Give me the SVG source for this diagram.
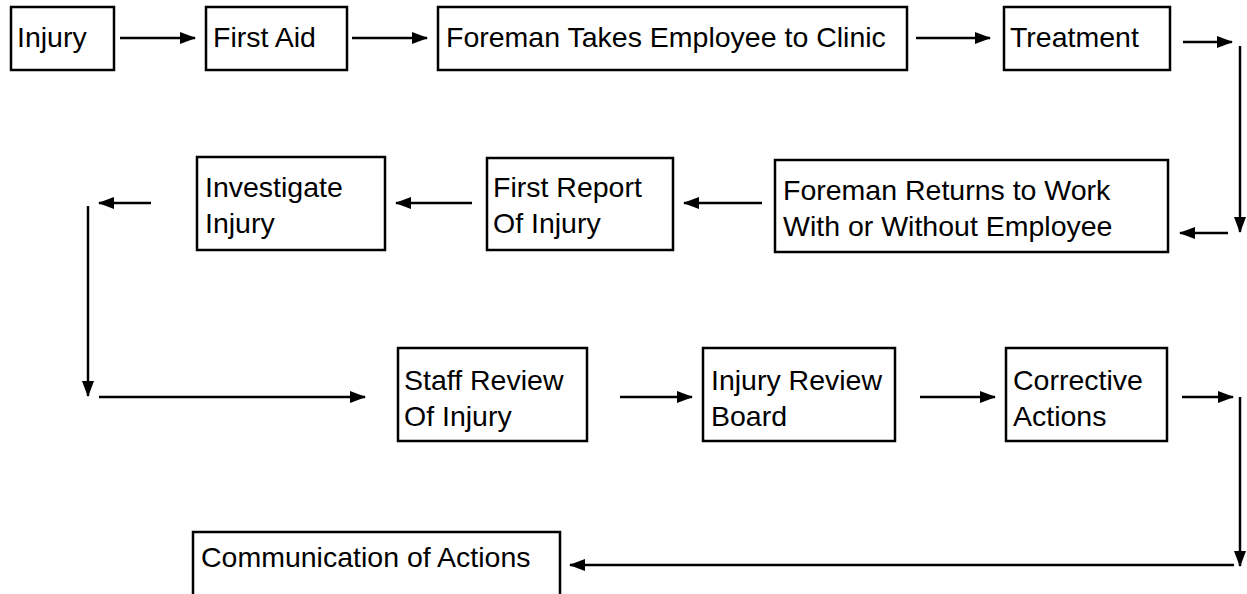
<svg xmlns="http://www.w3.org/2000/svg" width="1247" height="594" viewBox="0 0 1247 594">
<style>
.box{fill:#fff;stroke:#000;stroke-width:2.5}
.t{font-family:"Liberation Sans",Arial,sans-serif;font-size:28.5px;fill:#000}
.c{fill:none;stroke:#000;stroke-width:2.5}
</style>
<defs>
<marker id="ah" markerUnits="userSpaceOnUse" markerWidth="16" markerHeight="12" refX="15" refY="6" orient="auto">
<path d="M0,0 L16,6 L0,12 Z" fill="#000"/>
</marker>
</defs>
<rect width="1247" height="594" fill="#fff"/>
<g id="connectors">
<line class="c" x1="120" y1="38" x2="195" y2="38" marker-end="url(#ah)"/>
<line class="c" x1="352" y1="38" x2="427" y2="38" marker-end="url(#ah)"/>
<line class="c" x1="916" y1="38" x2="990" y2="38" marker-end="url(#ah)"/>
<line class="c" x1="1183" y1="42" x2="1232" y2="42" marker-end="url(#ah)"/>
<line class="c" x1="1240" y1="46" x2="1240" y2="232" marker-end="url(#ah)"/>
<line class="c" x1="1228" y1="233" x2="1180" y2="233" marker-end="url(#ah)"/>
<line class="c" x1="762" y1="203" x2="684" y2="203" marker-end="url(#ah)"/>
<line class="c" x1="472" y1="203" x2="396" y2="203" marker-end="url(#ah)"/>
<line class="c" x1="151" y1="203" x2="99" y2="203" marker-end="url(#ah)"/>
<line class="c" x1="88" y1="206" x2="88" y2="396" marker-end="url(#ah)"/>
<line class="c" x1="99" y1="397" x2="365" y2="397" marker-end="url(#ah)"/>
<line class="c" x1="620" y1="397" x2="692" y2="397" marker-end="url(#ah)"/>
<line class="c" x1="920" y1="397" x2="995" y2="397" marker-end="url(#ah)"/>
<line class="c" x1="1182" y1="397" x2="1233" y2="397" marker-end="url(#ah)"/>
<line class="c" x1="1240" y1="397" x2="1240" y2="566" marker-end="url(#ah)"/>
<line class="c" x1="1234" y1="565" x2="570" y2="565" marker-end="url(#ah)"/>
</g>
<g id="n1"><rect class="box" x="11" y="7" width="103" height="63"/><text class="t" x="17" y="47">Injury</text></g>
<g id="n2"><rect class="box" x="206" y="7" width="141" height="63"/><text class="t" x="213" y="47">First Aid</text></g>
<g id="n3"><rect class="box" x="438" y="7" width="469" height="63"/><text class="t" x="446" y="47">Foreman Takes Employee to Clinic</text></g>
<g id="n4"><rect class="box" x="1004" y="7" width="166" height="63"/><text class="t" x="1010" y="47">Treatment</text></g>
<g id="n5"><rect class="box" x="775" y="160" width="393" height="92"/><text class="t" x="783" y="200">Foreman Returns to Work</text><text class="t" x="783" y="236">With or Without Employee</text></g>
<g id="n6"><rect class="box" x="487" y="158" width="186" height="92"/><text class="t" x="493" y="197">First Report</text><text class="t" x="493" y="233">Of Injury</text></g>
<g id="n7"><rect class="box" x="197" y="157" width="188" height="93"/><text class="t" x="205" y="197">Investigate</text><text class="t" x="205" y="233">Injury</text></g>
<g id="n8"><rect class="box" x="398" y="348" width="189" height="93"/><text class="t" x="404" y="390">Staff Review</text><text class="t" x="404" y="426">Of Injury</text></g>
<g id="n9"><rect class="box" x="703" y="348" width="192" height="93"/><text class="t" x="711" y="390">Injury Review</text><text class="t" x="711" y="426">Board</text></g>
<g id="n10"><rect class="box" x="1006" y="348" width="161" height="93"/><text class="t" x="1013" y="390">Corrective</text><text class="t" x="1013" y="426">Actions</text></g>
<g id="n11"><path class="box" d="M193,600 V532 H560 V600"/><text class="t" x="201" y="567">Communication of Actions</text></g>
</svg>
